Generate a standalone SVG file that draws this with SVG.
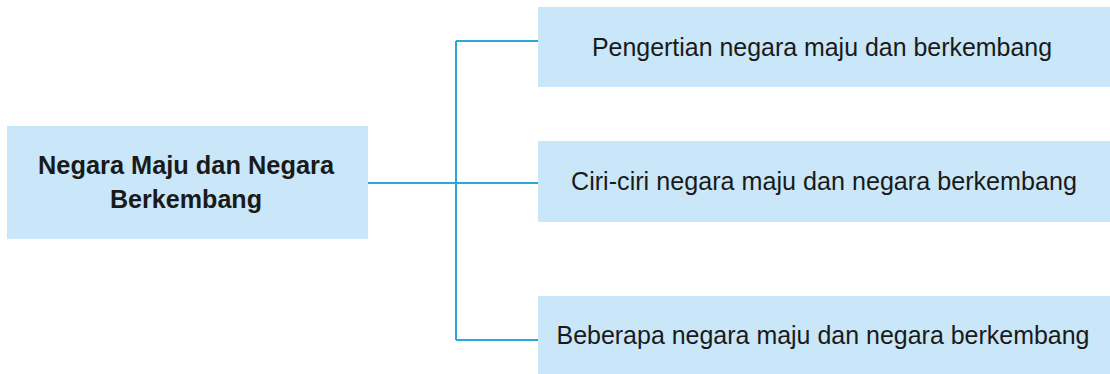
<svg xmlns="http://www.w3.org/2000/svg" width="1110" height="374" viewBox="0 0 1110 374">
<style>
.box{fill:#c9e7f8}
.t{font-family:"Liberation Sans",Arial,sans-serif;font-size:26px;fill:#1a1a1a;text-anchor:middle}
.b{font-weight:bold;font-size:26px}
.ln{stroke:#2aa7d8;stroke-width:2;fill:none}
</style>
<rect width="1110" height="374" fill="#ffffff"/>
<g id="connectors">
<path class="ln" d="M368 183H538M456 41V340M456 41H538M456 340H538"/>
</g>
<g id="main">
<rect class="box" x="7" y="126" width="361" height="113"/>
<text class="t b" x="186" y="174" textLength="296" lengthAdjust="spacingAndGlyphs">Negara Maju dan Negara</text>
<text class="t b" x="186" y="208" textLength="152" lengthAdjust="spacingAndGlyphs">Berkembang</text>
</g>
<g id="n1">
<rect class="box" x="538" y="7" width="572" height="80"/>
<text class="t" x="822" y="56" textLength="460" lengthAdjust="spacingAndGlyphs">Pengertian negara maju dan berkembang</text>
</g>
<g id="n2">
<rect class="box" x="538" y="141" width="572" height="81"/>
<text class="t" x="824" y="190" textLength="506" lengthAdjust="spacingAndGlyphs">Ciri-ciri negara maju dan negara berkembang</text>
</g>
<g id="n3">
<rect class="box" x="538" y="296" width="572" height="78"/>
<text class="t" x="823" y="344" textLength="533" lengthAdjust="spacingAndGlyphs">Beberapa negara maju dan negara berkembang</text>
</g>
</svg>
